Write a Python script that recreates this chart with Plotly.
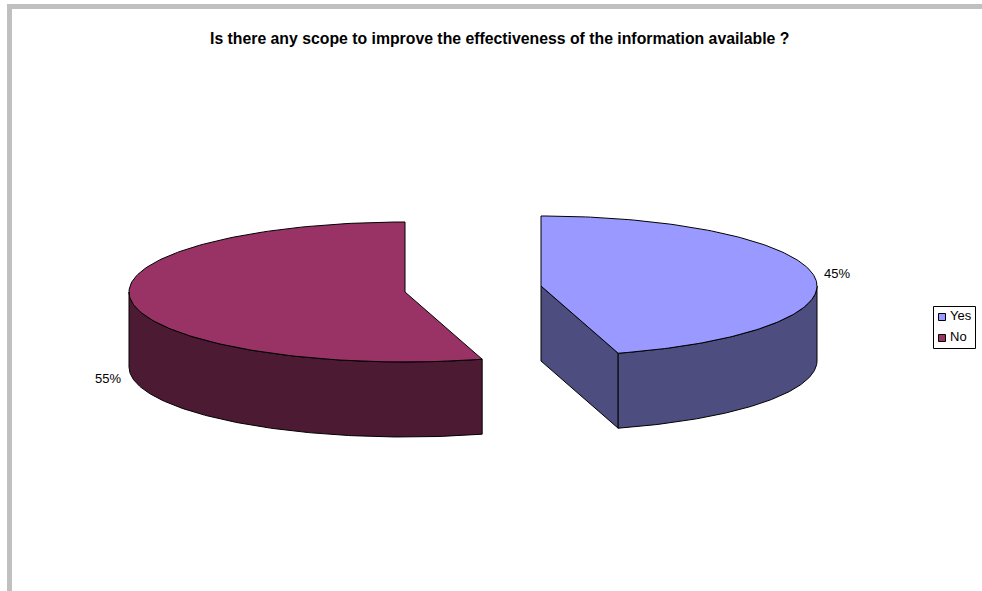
import numpy as np
import plotly.graph_objects as go

title = "Is there any scope to improve the effectiveness of the information available ?"
categories = ["Yes", "No"]
responses = [45.49, 54.51]
top_colors = ["#9999FF", "#993366"]
side_colors = ["#4D4D80", "#4D1A33"]

W, H = 982, 591
RX, RY, DEPTH = 276, 70, 75
centers = {"Yes": (541, 286), "No": (405, 292)}
FONT = "Liberation Sans, Arial, sans-serif"

total = sum(responses)
shares = [v / total for v in responses]
sweep = {c: s * 2 * np.pi for c, s in zip(categories, shares)}


def rim(cat, a, b, n=160):
    cx, cy = centers[cat]
    t = np.linspace(a, b, n)
    return cx + RX * np.sin(t), cy - RY * np.cos(t)


fig = go.Figure()


def poly(x, y, color, name):
    fig.add_trace(go.Scatter(
        x=np.append(x, x[0]), y=np.append(y, y[0]), mode="lines", fill="toself",
        fillcolor=color, line=dict(color="black", width=1), name=name,
        showlegend=False, hoverinfo="name"))


for i, cat in enumerate(categories):
    cx, cy = centers[cat]
    if cat == "Yes":
        a, b = 0, sweep[cat]
        ex, ey = rim(cat, b, b, 1)
        poly(np.array([cx, ex[0], ex[0], cx]),
             np.array([cy, ey[0], ey[0] + DEPTH, cy + DEPTH]), side_colors[i], cat)
        wx, wy = rim(cat, np.pi / 2, b)
    else:
        a, b = -sweep[cat], 0
        wx, wy = rim(cat, -np.pi / 2, a)
    poly(np.concatenate([wx, wx[::-1]]),
         np.concatenate([wy, wy[::-1] + DEPTH]), side_colors[i], cat)
    tx, ty = rim(cat, a, b)
    poly(np.concatenate([[cx], tx]), np.concatenate([[cy], ty]), top_colors[i], cat)

label_pos = {"Yes": (837, 273), "No": (108, 378)}
annotations = [
    dict(x=label_pos[c][0], y=label_pos[c][1], xref="x", yref="y",
         text=f"{round(s * 100)}%", showarrow=False,
         font=dict(family=FONT, size=13, color="black"))
    for c, s in zip(categories, shares)
]
annotations.append(dict(x=499, y=38, xref="x", yref="y", text=f"<b>{title}</b>",
                        showarrow=False, font=dict(family=FONT, size=15.8, color="black")))

shapes = [
    dict(type="rect", xref="x", yref="y", x0=7, x1=W, y0=4, y1=9,
         fillcolor="#C0C0C0", line_width=0, layer="below"),
    dict(type="rect", xref="x", yref="y", x0=7, x1=12, y0=4, y1=H,
         fillcolor="#C0C0C0", line_width=0, layer="below"),
    dict(type="rect", xref="x", yref="y", x0=933.5, x1=975.5, y0=306.5, y1=348.5,
         fillcolor="white", line=dict(color="black", width=1)),
]
for i, cat in enumerate(categories):
    y_mid = 316.5 + i * 21
    shapes.append(dict(type="rect", xref="x", yref="y", x0=938.5, x1=945.5,
                       y0=y_mid - 3, y1=y_mid + 4, fillcolor=top_colors[i],
                       line=dict(color="black", width=1)))
    annotations.append(dict(x=948, y=y_mid - 1.5, xref="x", yref="y", text=cat,
                            xanchor="left", showarrow=False,
                            font=dict(family=FONT, size=13, color="black")))

fig.update_layout(
    width=W, height=H, margin=dict(l=0, r=0, t=0, b=0),
    paper_bgcolor="white", plot_bgcolor="white", showlegend=False,
    xaxis=dict(range=[0, W], visible=False, fixedrange=True),
    yaxis=dict(range=[H, 0], visible=False, fixedrange=True),
    annotations=annotations, shapes=shapes,
)
fig.write_html("out.html", config={"displayModeBar": False},
               post_script="document.body.style.margin='0';document.body.style.overflow='hidden';")
